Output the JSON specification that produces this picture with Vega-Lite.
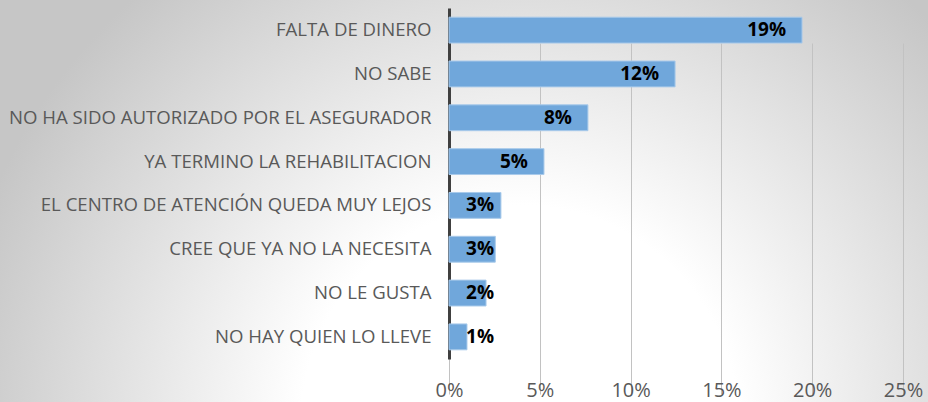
{
  "$schema": "https://vega.github.io/schema/vega-lite/v6.json",
  "width": 928,
  "height": 402,
  "padding": 0,
  "autosize": {"type": "none"},
  "background": "#d0d0d0",
  "config": {
    "view": {
      "stroke": null,
      "fill": {
        "gradient": "radial",
        "x1": 0.56, "y1": 0.74, "r1": 0,
        "x2": 0.56, "y2": 0.74, "r2": 0.62,
        "stops": [
          {"offset": 0, "color": "#ffffff"},
          {"offset": 0.38, "color": "#ffffff"},
          {"offset": 1, "color": "#c6c6c6"}
        ]
      }
    },
    "font": "Open Sans"
  },
  "data": {
    "values": [
      {"motivo": "FALTA DE DINERO", "v": 0.1944},
      {"motivo": "NO SABE", "v": 0.1245},
      {"motivo": "NO HA SIDO AUTORIZADO POR EL ASEGURADOR", "v": 0.0765},
      {"motivo": "YA TERMINO LA REHABILITACION", "v": 0.0523},
      {"motivo": "EL CENTRO DE ATENCIÓN QUEDA MUY LEJOS", "v": 0.0286},
      {"motivo": "CREE QUE YA NO LA NECESITA", "v": 0.0255},
      {"motivo": "NO LE GUSTA", "v": 0.0204},
      {"motivo": "NO HAY QUIEN LO LLEVE", "v": 0.0099}
    ]
  },
  "encoding": {
    "y": {
      "field": "motivo",
      "type": "nominal",
      "sort": null,
      "title": null,
      "scale": {"range": [8, 359], "paddingInner": 0.41, "paddingOuter": 0.21},
      "axis": {
        "orient": "left",
        "offset": -449,
        "domainColor": "#404040",
        "domainWidth": 3,
        "ticks": false,
        "labelPadding": 18,
        "labelFont": "Open Sans",
        "labelFontSize": 18.6,
        "labelColor": "#595959",
        "labelLimit": 500,
        "grid": false
      }
    }
  },
  "layer": [
    {
      "mark": {"type": "bar", "color": "#70A7DB", "stroke": "#A9CAEA", "strokeWidth": 1},
      "encoding": {
        "x": {
          "field": "v",
          "type": "quantitative",
          "title": null,
          "scale": {"domain": [-0.24725, 0.26377], "nice": false, "zero": false},
          "axis": {
            "orient": "bottom",
            "offset": -43,
            "values": [0, 0.05, 0.1, 0.15, 0.2, 0.25],
            "format": ".0%",
            "domain": false,
            "ticks": false,
            "grid": true,
            "gridColor": "#c2c2c2",
            "gridWidth": 1,
            "labelPadding": 21,
            "labelFont": "Open Sans",
            "labelFontSize": 20,
            "labelColor": "#595959"
          }
        }
      }
    },
    {
      "transform": [{"calculate": "max(datum.v, 0.0336)", "as": "lx"}],
      "mark": {"type": "text", "align": "right", "baseline": "middle", "dx": -16, "fontWeight": "bold", "fontSize": 19, "font": "Open Sans", "color": "#000000"},
      "encoding": {
        "x": {"field": "lx", "type": "quantitative"},
        "text": {"field": "v", "type": "quantitative", "format": ".0%"}
      }
    }
  ]
}
